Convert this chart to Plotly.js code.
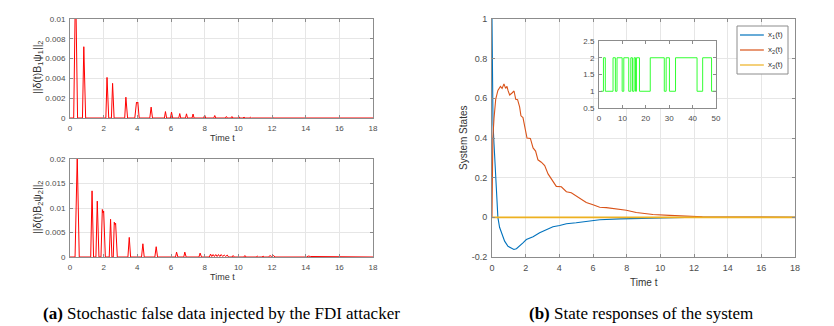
<!DOCTYPE html>
<html>
<head>
<meta charset="utf-8">
<script src="https://cdn.plot.ly/plotly-3.0.1.min.js"></script>
<style>
  html, body { margin: 0; padding: 0; background: #fff; }
  #chart { width: 834px; height: 326px; }
</style>
</head>
<body>
<div id="chart"></div>
<script>
// (a) 上段: ||δ(t)B1ψ1||2
const tPsi1 = [0, 0.22, 0.33, 0.45, 0.74, 0.82, 0.93, 2.13, 2.2, 2.3, 2.46, 2.53, 2.62, 3.25, 3.32, 3.42,
  3.85, 3.95, 4.0, 4.03, 4.11, 4.74, 4.82, 4.9, 5.61, 5.67, 5.74, 5.97, 6.03, 6.1, 6.46, 6.52, 6.58,
  6.86, 6.92, 6.98, 7.25, 7.31, 7.37, 7.94, 8.0, 8.06, 8.54, 8.6, 8.66, 9.23, 9.29, 9.35, 9.56, 9.62, 9.68,
  9.98, 10.04, 10.1, 10.28, 10.34, 10.4, 10.65, 10.71, 10.77, 11.99, 12.05, 12.11, 12.79, 12.85, 12.91,
  13.84, 13.9, 13.96, 14.84, 14.9, 14.96, 16.2, 16.4, 16.6, 18];
const psi1 = [0, 0, 0.014, 0, 0, 0.0072, 0, 0, 0.0041, 0, 0, 0.0035, 0, 0, 0.0021, 0,
  0, 0.0016, 0.0015, 0.0016, 0, 0, 0.0011, 0, 0, 0.00065, 0, 0, 0.0006, 0, 0, 0.00045, 0,
  0, 0.00042, 0, 0, 0.0004, 0, 0, 0.0003, 0, 0, 0.00025, 0, 0, 0.00015, 0, 0, 0.00015, 0,
  0, 0.00012, 0, 0, 0.0001, 0, 0, 0.00008, 0, 0, 0.00005, 0, 0, 0.00004, 0,
  0, 0.00004, 0, 0, 0.00004, 0, 0, 0.00003, 0, 0];

// (a) 下段: ||δ(t)B2ψ2||2
const tPsi2 = [0, 0.3, 0.43, 0.55, 1.23, 1.31, 1.4, 1.54, 1.62, 1.72, 1.84, 1.92, 1.96, 2.0, 2.1,
  2.33, 2.41, 2.49, 2.57, 2.63, 2.67, 2.71, 2.81, 3.44, 3.52, 3.6, 4.25, 4.33, 4.41, 5.04, 5.12, 5.2,
  6.27, 6.33, 6.41, 6.76, 6.82, 6.9, 7.66, 7.73, 7.81, 8.28, 8.35, 8.42, 8.5, 8.58, 8.66, 8.74, 8.82,
  8.9, 8.98, 9.07, 9.16, 9.25, 9.34, 9.42, 9.62, 9.69, 9.76, 10.33, 10.39, 10.46, 11.06, 11.12, 11.18,
  11.41, 11.47, 11.53, 11.81, 11.87, 11.98, 12.1, 12.17, 14.07, 14.14, 14.3, 14.5, 14.6,
  15.72, 15.8, 15.88, 16.52, 16.6, 16.68, 17.03, 17.1, 17.17, 18];
const psi2 = [0, 0, 0.0205, 0, 0, 0.0135, 0, 0, 0.0114, 0, 0, 0.0097, 0.009, 0.0094, 0,
  0, 0.0077, 0, 0, 0.0071, 0.0066, 0.0069, 0, 0, 0.004, 0, 0, 0.0027, 0, 0, 0.0021, 0,
  0, 0.001, 0, 0, 0.001, 0, 0, 0.0008, 0, 0, 0.0006, 0.0001, 0.0005, 0.0001, 0.0005, 0.0001, 0.0005,
  0.0001, 0.0005, 0.0001, 0.0004, 0.0001, 0.0004, 0, 0, 0.0003, 0, 0, 0.0003, 0, 0, 0.0002, 0,
  0, 0.0002, 0, 0, 0.0003, 0.0001, 0.0003, 0, 0, 0.0002, 0.0001, 0.0001, 0,
  0, 0.0001, 0, 0, 0.0001, 0, 0, 0.00005, 0, 0];

// (b) 状態応答
const tX1 = [0, 0.02, 0.06, 0.12, 0.18, 0.24, 0.3, 0.35, 0.45, 0.56, 0.75, 0.95, 1.15, 1.3, 1.45, 1.64,
  1.84, 2.04, 2.2, 2.44, 2.83, 3.23, 3.62, 4.02, 4.42, 5.0, 5.6, 6.4, 7.6, 8.6, 9.56, 11.5, 18];
const x1 = [1, 0.62, 0.47, 0.37, 0.26, 0.15, 0.04, 0, -0.05, -0.08, -0.12, -0.146, -0.156, -0.162, -0.158, -0.146,
  -0.129, -0.112, -0.108, -0.098, -0.078, -0.061, -0.047, -0.041, -0.032, -0.027, -0.019, -0.012, -0.008, -0.005, -0.003, 0, 0];

const tX2 = [0, 0.02, 0.05, 0.12, 0.22, 0.35, 0.5, 0.6, 0.65, 0.71, 0.81, 0.89, 0.95, 1.05, 1.19, 1.31,
  1.41, 1.52, 1.64, 1.72, 1.84, 1.96, 2.08, 2.28, 2.44, 2.59, 2.73, 2.93, 3.13, 3.33, 3.62, 3.82, 4.12,
  4.42, 4.71, 5.0, 5.31, 5.6, 6.0, 6.4, 6.79, 7.39, 7.98, 8.57, 9.56, 10.55, 11.5, 12.5, 13.5, 14.5, 15.5, 18];
const x2 = [0, 0.3, 0.4, 0.5, 0.595, 0.64, 0.66, 0.65, 0.665, 0.673, 0.65, 0.66, 0.64, 0.617, 0.627, 0.637,
  0.595, 0.593, 0.557, 0.512, 0.503, 0.447, 0.4, 0.398, 0.35, 0.334, 0.29, 0.278, 0.261, 0.219, 0.185, 0.156, 0.154,
  0.129, 0.124, 0.108, 0.095, 0.075, 0.063, 0.051, 0.049, 0.044, 0.036, 0.024, 0.014, 0.01, 0.005, 0.003, 0.002, 0.001, 0, 0];

const tX3 = [0, 18];
const x3 = [0, 0];

// 挿入図: モード遷移
const tMode = [0.8, 1.9, 2.7, 6.0, 7.0, 7.7, 9.9, 10.6, 12.7, 13.6, 14.3, 15.0, 15.6, 16.0, 17.3, 21.9,
  27.9, 28.7, 30.1, 32.7, 41.9, 44.3, 48.1, 50];
const mode = [1, 2, 1, 2, 1, 2, 1, 2, 1, 2, 1, 2, 1, 2, 1, 2, 1, 2, 1, 2, 1, 2, 1, 1];

const timeTicks = [0, 2, 4, 6, 8, 10, 12, 14, 16, 18];
const stateTicks = [-0.2, 0, 0.2, 0.4, 0.6, 0.8, 1];
const stateTickText = ['-0.2', '0', '0.2', '0.4', '0.6', '0.8', '1'];
const legendNames = ['x<sub>1</sub>(t)', 'x<sub>2</sub>(t)', 'x<sub>3</sub>(t)'];
const stateColors = ['#0072bd', '#d95319', '#edb120'];

const W = 834, H = 326;
const px = v => v / W;
const py = v => 1 - v / H;

const tickFont = { family: 'Liberation Sans, Arial, sans-serif', size: 8, color: '#4d4d4d' };
const labelFont = { family: 'Liberation Sans, Arial, sans-serif', size: 9, color: '#333' };
const captionFont = { family: 'Liberation Serif, Times New Roman, serif', size: 17, color: '#000' };

function axisStyle(extra) {
  return Object.assign({
    showline: true, mirror: 'ticks', linecolor: '#8c8c8c', linewidth: 1,
    ticks: 'inside', ticklen: 3, tickcolor: '#8c8c8c', tickwidth: 1,
    showgrid: true, gridcolor: '#e6e6e6', gridwidth: 1,
    zeroline: false, tickfont: tickFont, ticklabelstandoff: 2
  }, extra);
}

function label(text, x, y, extra) {
  return Object.assign({ text: text, xref: 'paper', yref: 'paper', x: px(x), y: py(y),
    xanchor: 'center', yanchor: 'middle', showarrow: false, font: labelFont }, extra);
}

const traces = [
  { x: tPsi1, y: psi1, xaxis: 'x', yaxis: 'y', type: 'scatter', mode: 'lines',
    line: { color: '#ff0000', width: 1 } },
  { x: tPsi2, y: psi2, xaxis: 'x2', yaxis: 'y2', type: 'scatter', mode: 'lines',
    line: { color: '#ff0000', width: 1 } },
  { x: tX1, y: x1, xaxis: 'x3', yaxis: 'y3', type: 'scatter', mode: 'lines', name: legendNames[0],
    line: { color: stateColors[0], width: 1.1 } },
  { x: tX2, y: x2, xaxis: 'x3', yaxis: 'y3', type: 'scatter', mode: 'lines', name: legendNames[1],
    line: { color: stateColors[1], width: 1.1 } },
  { x: tX3, y: x3, xaxis: 'x3', yaxis: 'y3', type: 'scatter', mode: 'lines', name: legendNames[2],
    line: { color: stateColors[2], width: 1.6 } },
  { x: tMode, y: mode, xaxis: 'x4', yaxis: 'y4', type: 'scatter', mode: 'lines',
    line: { color: '#33ff33', width: 1, shape: 'hv' } }
];

// 凡例 (MATLAB風の小さい枠)
const legendShapes = [{ type: 'rect', xref: 'paper', yref: 'paper', x0: px(737), x1: px(788), y0: py(74), y1: py(26),
  line: { color: '#8c8c8c', width: 1 }, fillcolor: '#fff', layer: 'above' }];
const legendLabels = [];
legendNames.forEach((name, i) => {
  const yy = 35 + i * 15;
  legendShapes.push({ type: 'line', xref: 'paper', yref: 'paper', x0: px(740), x1: px(764), y0: py(yy), y1: py(yy),
    line: { color: stateColors[i], width: 1.2 }, layer: 'above' });
  legendLabels.push(label(name, 766, yy, { xanchor: 'left',
    font: { family: 'Liberation Sans, Arial, sans-serif', size: 8, color: '#333' } }));
});

const layout = {
  width: W, height: H,
  margin: { l: 0, r: 0, t: 0, b: 0 },
  paper_bgcolor: '#fff', plot_bgcolor: '#fff',
  font: { family: 'Liberation Sans, Arial, sans-serif' },
  showlegend: false,
  xaxis: axisStyle({ domain: [px(70), px(373)], anchor: 'y', range: [0, 18], tickvals: timeTicks }),
  yaxis: axisStyle({ domain: [py(118), py(19)], anchor: 'x', range: [0, 0.01], dtick: 0.002 }),
  xaxis2: axisStyle({ domain: [px(70), px(373)], anchor: 'y2', range: [0, 18], tickvals: timeTicks }),
  yaxis2: axisStyle({ domain: [py(257), py(159)], anchor: 'x2', range: [0, 0.02], dtick: 0.005 }),
  xaxis3: axisStyle({ domain: [px(492), px(795)], anchor: 'y3', range: [0, 18], tickvals: timeTicks,
    tickfont: Object.assign({}, tickFont, { size: 9 }) }),
  yaxis3: axisStyle({ domain: [py(257), py(19)], anchor: 'x3', range: [-0.2, 1],
    tickvals: stateTicks, ticktext: stateTickText, tickfont: Object.assign({}, tickFont, { size: 9 }) }),
  xaxis4: axisStyle({ domain: [px(599), px(716)], anchor: 'y4', range: [0, 50], dtick: 10, showgrid: false }),
  yaxis4: axisStyle({ domain: [py(108), py(41)], anchor: 'x4', range: [0.5, 2.5], dtick: 0.5, showgrid: false }),
  shapes: legendShapes,
  annotations: [
    label('Time t', 222, 138),
    label('Time t', 222, 277),
    label('Time t', 644, 282, { font: Object.assign({}, labelFont, { size: 10 }) }),
    label('||δ(t)B<sub>1</sub>ψ<sub>1</sub>||<sub>2</sub>', 38, 68,
      { textangle: -90, font: Object.assign({}, labelFont, { size: 10.5 }) }),
    label('||δ(t)B<sub>2</sub>ψ<sub>2</sub>||<sub>2</sub>', 38, 208,
      { textangle: -90, font: Object.assign({}, labelFont, { size: 10.5 }) }),
    label('System States', 463, 138, { textangle: -90, font: Object.assign({}, labelFont, { size: 10 }) }),
    label('<b>(a)</b> Stochastic false data injected by the FDI attacker', 221, 313, { font: captionFont }),
    label('<b>(b)</b> State responses of the system', 641, 313, { font: captionFont })
  ].concat(legendLabels)
};

Plotly.newPlot('chart', traces, layout, { displayModeBar: false, staticPlot: true });
</script>
</body>
</html>
